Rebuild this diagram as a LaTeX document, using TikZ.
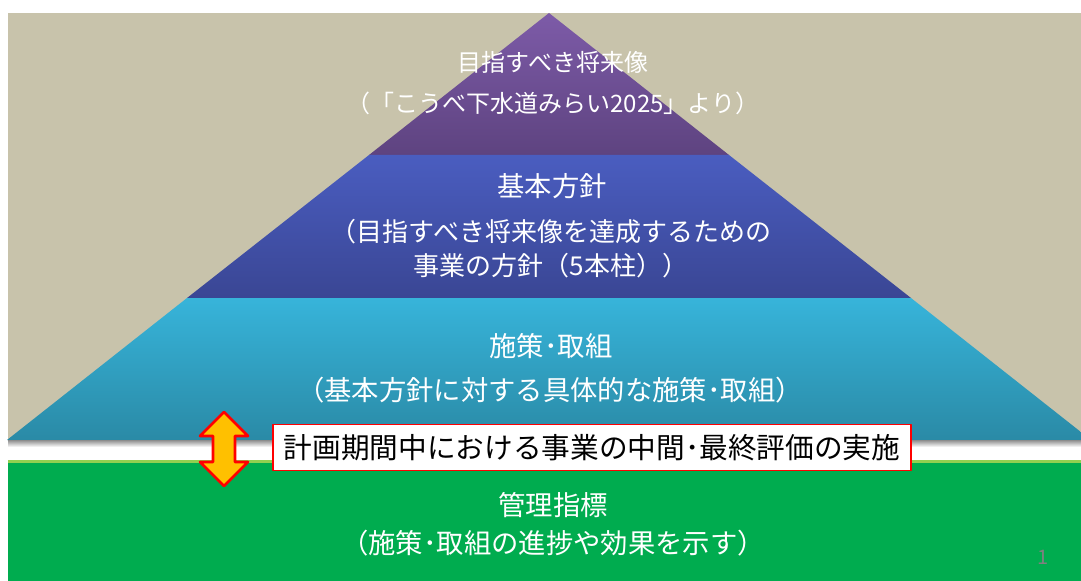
\documentclass[tikz,border=0pt]{standalone}
\usepackage{fontspec}
\setmainfont{Noto Sans CJK JP}
\usetikzlibrary{calc}
\definecolor{beige}{HTML}{C8C3AB}
\definecolor{purpT}{HTML}{7D5BA8}
\definecolor{purpB}{HTML}{5E4380}
\definecolor{blueT}{HTML}{4A5DC0}
\definecolor{blueB}{HTML}{3A4694}
\definecolor{cyanT}{HTML}{37B4DA}
\definecolor{cyanB}{HTML}{2A8AA6}
\definecolor{grn}{HTML}{00AC4F}
\definecolor{lgrn}{HTML}{92D050}
\definecolor{orng}{HTML}{FFC000}
\tikzset{t/.style={text=white,font=\fontsize{18}{18}\selectfont}}
\tikzset{h/.style={text=white,font=\fontsize{20.5}{20.5}\selectfont}}
\tikzset{s/.style={text=white,align=center,font=\fontsize{19.5}{25.5}\selectfont}}

\begin{document}
\begin{tikzpicture}[line join=round,x=0.75pt,y=-0.75pt]
            \clip (0,0) rectangle (1081,581);
            \fill[beige](8,13) rectangle (1081,440);
            % pyramid levels
            \shade[top color=purpT,bottom color=purpB](549,13)--(729,155)--(369,155)--cycle;
            \shade[top color=blueT,bottom color=blueB](369,155)--(729,155)--(911,298)--(187,298)--cycle;
            \shade[top color=cyanT,bottom color=cyanB](187,298)--(911,298)--(1091,440)--(7,440)--cycle;
            \shade[top color=black!45,bottom color=white](8,440) rectangle (1081,447);
            % base
            \fill[lgrn](8,460) rectangle (1081,463);
            \fill[grn](8,463) rectangle (1081,581);
            \node[t] (goal) at (553,62) {目指すべき将来像};
            \node[t] (goalsrc) at (553,103) {（「こうべ下水道みらい2025」より）};
            \node[h] (policy) at (552,186) {基本方針};
            \node[s] (policysub) at (551,249) {（目指すべき将来像を達成するための\\事業の方針（5本柱））};
            \node[h] (measure) at (551,346) {施策･取組};
            \node[h] (measuresub) at (550,390) {（基本方針に対する具体的な施策･取組）};
            \node[h] (index) at (553,505) {管理指標};
            \node[h] (indexsub) at (553,543) {（施策･取組の進捗や効果を示す）};
            \node[draw=red,line width=1.2pt,fill=white,minimum width=638*0.75pt,minimum height=46*0.75pt,
              font=\fontsize{21.5}{21.5}\selectfont] (review) at (592,447.5) {計画期間中における事業の中間･最終評価の実施};
            \node[text=gray,font=\fontsize{15}{15}\selectfont] (page) at (1043,557) {1};
            % two-way arrow
            \coordinate (arr) at (224,449);
            \filldraw[fill=orng,draw=red,line width=2pt]
              ($(arr)+(0,-37)$)--($(arr)+(24,-13)$)--($(arr)+(11,-13)$)--($(arr)+(11,13)$)--($(arr)+(24,13)$)
              --($(arr)+(0,37)$)--($(arr)+(-24,13)$)--($(arr)+(-11,13)$)--($(arr)+(-11,-13)$)--($(arr)+(-24,-13)$)--cycle;
          \end{tikzpicture}
\end{document}
